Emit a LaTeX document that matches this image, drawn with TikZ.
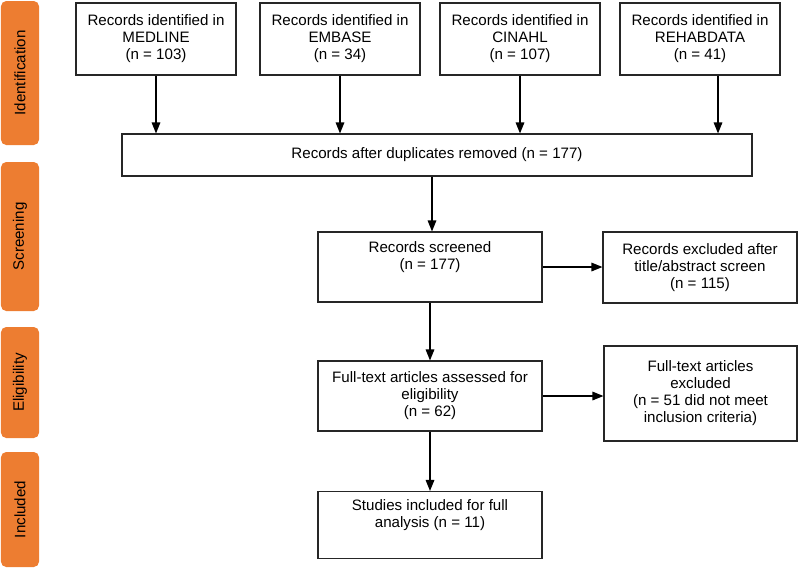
\documentclass[tikz,border=0pt]{standalone}
\usepackage{fontspec}
\setmainfont{Liberation Sans}
\usetikzlibrary{arrows.meta}
\definecolor{taborange}{RGB}{237,125,49}
\begin{document}
\begin{tikzpicture}[
    box/.style={rectangle, draw=black!85, line width=0.6pt, inner sep=0pt, font=\fontsize{8.6}{9.7}\selectfont, align=center},
    phase/.style={rectangle, fill=taborange, rounded corners=3pt, minimum height=0.76cm, inner sep=0pt, font=\fontsize{8.6}{9.7}\selectfont, rotate=90},
    arr/.style={-{Triangle[length=0.22cm, width=0.17cm]}, line width=0.85pt, black},
]
\useasboundingbox (0,0) rectangle (16,-11.36);
\node[phase, minimum width=2.88cm] (idtab) at (0.40,-1.46) {Identification};
\node[phase, minimum width=2.98cm] (scrtab) at (0.40,-4.73) {Screening};
\node[phase, minimum width=2.22cm] (eltab) at (0.40,-7.65) {Eligibility};
\node[phase, minimum width=2.30cm] (inctab) at (0.40,-10.19) {Included};
\node[box, minimum width=3.2cm, minimum height=1.44cm] (medline) at (3.12,-0.78) {Records identified in\\MEDLINE\\(n = 103)};
\node[box, minimum width=3.2cm, minimum height=1.44cm] (embase) at (6.80,-0.78) {Records identified in\\EMBASE\\(n = 34)};
\node[box, minimum width=3.2cm, minimum height=1.44cm] (cinahl) at (10.40,-0.78) {Records identified in\\CINAHL\\(n = 107)};
\node[box, minimum width=3.2cm, minimum height=1.44cm] (rehab) at (14.00,-0.78) {Records identified in\\REHABDATA\\(n = 41)};
\node[box, minimum width=12.6cm, minimum height=0.84cm] (dup) at (8.74,-3.10) {Records after duplicates removed (n = 177)};
\node[box, minimum width=4.48cm, minimum height=1.40cm] (screened) at (8.60,-5.34) {Records screened\\(n = 177)\\\strut};
\node[box, minimum width=3.88cm, minimum height=1.42cm] (recexcl) at (14.00,-5.35) {Records excluded after\\title/abstract screen\\(n = 115)};
\node[box, minimum width=4.48cm, minimum height=1.40cm] (fulltext) at (8.60,-7.92) {Full-text articles assessed for\\eligibility\\(n = 62)};
\node[box, minimum width=3.86cm, minimum height=1.90cm] (ftexcl) at (14.01,-7.87) {Full-text articles\\excluded\\(n = 51 did not meet\\inclusion criteria)};
\node[box, minimum width=4.48cm, minimum height=1.34cm] (studies) at (8.60,-10.50) {Studies included for full\\analysis (n = 11)\\\strut};
\draw[arr] (medline) -- (medline |- dup.north);
\draw[arr] (embase) -- (embase |- dup.north);
\draw[arr] (cinahl) -- (cinahl |- dup.north);
\draw[arr] ([xshift=0.36cm]rehab.south) -- ([xshift=0.36cm]rehab.south |- dup.north);
\draw[arr] ([xshift=0.04cm]screened.north |- dup.south) -- ([xshift=0.04cm]screened.north);
\draw[arr] (screened.east) -- (screened.east -| recexcl.west);
\draw[arr] (screened) -- (fulltext);
\draw[arr] (fulltext.east) -- (fulltext.east -| ftexcl.west);
\draw[arr] (fulltext) -- (studies);
\end{tikzpicture}
\end{document}
